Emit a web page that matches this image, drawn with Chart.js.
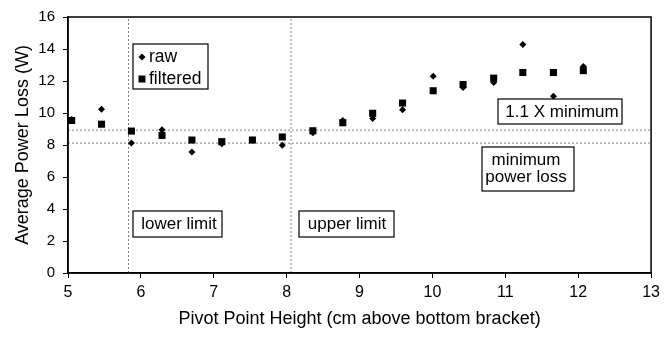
<!DOCTYPE html>
<html>
<head>
<meta charset="utf-8">
<script src="https://cdn.jsdelivr.net/npm/chart.js@4.4.0/dist/chart.umd.min.js"></script>
<style>
  html, body { margin: 0; padding: 0; background: #fff; }
  canvas { display: block; }
</style>
</head>
<body>
<canvas id="chart" width="665" height="339"></canvas>
<script>
// values
const pivotHeight = [5.05, 5.46, 5.87, 6.29, 6.70, 7.11, 7.53, 7.94, 8.36, 8.77, 9.18, 9.59, 10.01, 10.42, 10.84, 11.24, 11.66, 12.07];
const rawLoss = [9.60, 10.23, 8.12, 8.95, 7.57, 8.08, 8.31, 7.98, 8.77, 9.53, 9.65, 10.21, 12.30, 11.60, 11.90, 14.28, 11.04, 12.90];
const filteredLoss = [9.53, 9.30, 8.87, 8.60, 8.31, 8.21, 8.31, 8.50, 8.89, 9.39, 9.98, 10.62, 11.39, 11.78, 12.18, 12.53, 12.53, 12.65];

const minimumLoss = 8.12;
const limitLoss = 8.93;      // 1.1 x minimum
const lowerLimit = 5.83;
const upperLimit = 8.06;

const xRange = [5, 13];
const yRange = [0, 16];

const FONT = "'Liberation Sans', Arial, sans-serif";

const toPoints = (xs, ys) => xs.map((x, i) => ({ x: x, y: ys[i] }));

const refLine = (pts) => ({
    data: pts,
    showLine: true,
    borderColor: '#808080',
    borderWidth: 1,
    borderDash: [2, 2],
    pointRadius: 0,
    fill: false,
    order: 5
});

// plot frame, legend and text boxes
const decorations = {
    id: 'decorations',
    afterDraw(chart) {
        const ctx = chart.ctx;
        const a = chart.chartArea;
        ctx.save();
        ctx.strokeStyle = '#000';
        ctx.lineWidth = 1.5;
        ctx.strokeRect(a.left, a.top, a.right - a.left, a.bottom - a.top);

        const box = (x, y, w, h) => {
            ctx.fillStyle = '#fff';
            ctx.fillRect(x, y, w, h);
            ctx.lineWidth = 1.2;
            ctx.strokeStyle = '#000';
            ctx.strokeRect(x, y, w, h);
        };
        const text = (s, x, y, size, align) => {
            ctx.fillStyle = '#000';
            ctx.font = size + 'px ' + FONT;
            ctx.textAlign = align || 'center';
            ctx.textBaseline = 'middle';
            ctx.fillText(s, x, y);
        };

        // legend
        box(133, 44, 75, 45);
        ctx.fillStyle = '#000';
        ctx.beginPath();
        ctx.moveTo(142, 53.5); ctx.lineTo(145.5, 57); ctx.lineTo(142, 60.5); ctx.lineTo(138.5, 57);
        ctx.closePath();
        ctx.fill();
        ctx.fillRect(138.5, 75.5, 7, 7);
        text(chart.data.datasets[0].label, 149, 57, 17.5, 'left');
        text(chart.data.datasets[1].label, 149, 79, 17.5, 'left');

        // annotations
        box(498, 99, 124, 25);
        text('1.1 X minimum', 562, 112, 17);
        box(482, 147, 92, 44);
        text('minimum', 526, 160, 17);
        text('power loss', 526, 177, 17);
        box(133, 211, 89, 26);
        text('lower limit', 179, 224, 17);
        box(299, 211, 95, 26);
        text('upper limit', 347, 224, 17);
        ctx.restore();
    }
};

new Chart(document.getElementById('chart'), {
    type: 'scatter',
    data: {
        datasets: [
            {
                label: 'raw',
                data: toPoints(pivotHeight, rawLoss),
                pointStyle: 'rectRot',
                pointRadius: 3.5,
                backgroundColor: '#000',
                borderColor: '#000',
                borderWidth: 0,
                order: 2
            },
            {
                label: 'filtered',
                data: toPoints(pivotHeight, filteredLoss),
                pointStyle: 'rect',
                pointRadius: 5,
                backgroundColor: '#000',
                borderColor: '#000',
                borderWidth: 0,
                order: 1
            },
            refLine([{ x: xRange[0], y: limitLoss }, { x: xRange[1], y: limitLoss }]),
            refLine([{ x: xRange[0], y: minimumLoss }, { x: xRange[1], y: minimumLoss }]),
            refLine([{ x: lowerLimit, y: yRange[0] }, { x: lowerLimit, y: yRange[1] }]),
            refLine([{ x: upperLimit, y: yRange[0] }, { x: upperLimit, y: yRange[1] }])
        ]
    },
    options: {
        responsive: false,
        animation: false,
        devicePixelRatio: 1,
        layout: { padding: { top: 15, right: 11, left: 0, bottom: 0 } },
        plugins: {
            legend: { display: false },
            tooltip: { enabled: false }
        },
        scales: {
            x: {
                type: 'linear',
                min: xRange[0],
                max: xRange[1],
                ticks: { stepSize: 1, color: '#000', font: { family: FONT, size: 16 }, padding: 5 },
                grid: { drawOnChartArea: false, color: '#000', tickLength: 5 },
                border: { color: '#000', width: 1.5 },
                title: {
                    display: true,
                    text: 'Pivot Point Height (cm above bottom bracket)',
                    color: '#000',
                    font: { family: FONT, size: 18 },
                    padding: { top: 0, bottom: 9 }
                },
                afterFit: (s) => { s.height = 66; }
            },
            y: {
                min: yRange[0],
                max: yRange[1],
                ticks: { stepSize: 2, color: '#000', font: { family: FONT, size: 15 }, padding: 8 },
                grid: { drawOnChartArea: false, color: '#000', tickLength: 5 },
                border: { color: '#000', width: 1.5 },
                title: {
                    display: true,
                    text: 'Average Power Loss (W)',
                    color: '#000',
                    font: { family: FONT, size: 18 },
                    padding: { top: 12, bottom: 0 }
                },
                afterFit: (s) => { s.width = 68; }
            }
        }
    },
    plugins: [decorations]
});
</script>
</body>
</html>
